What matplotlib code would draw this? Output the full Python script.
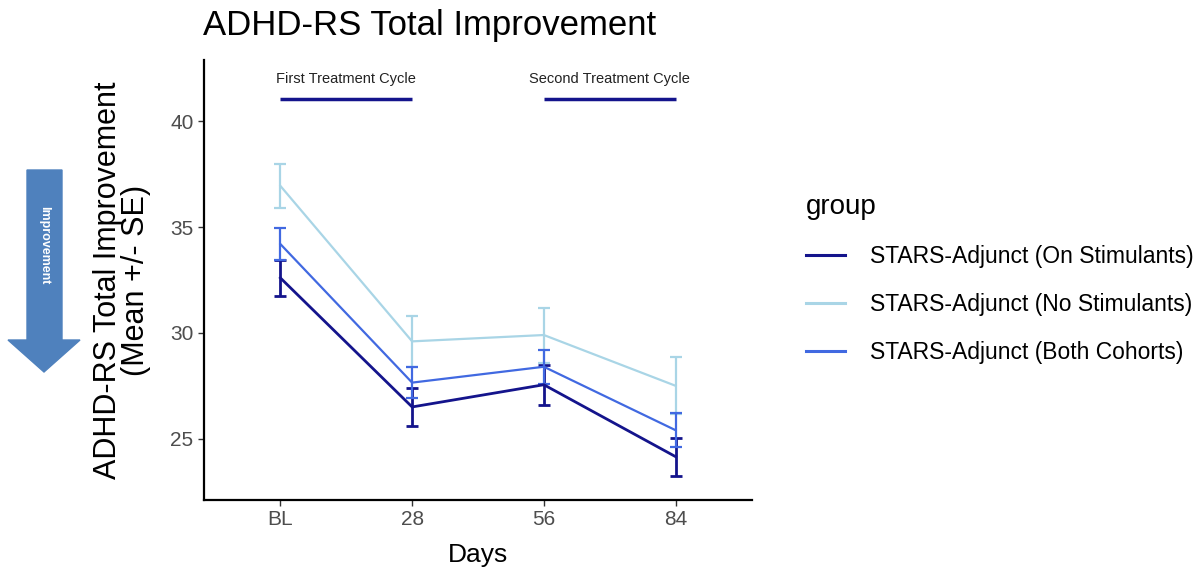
import numpy as np
import matplotlib.pyplot as plt
from matplotlib.patches import Polygon
from matplotlib.lines import Line2D

plt.rcParams['font.family'] = ['Liberation Sans', 'DejaVu Sans']

days = ['BL', '28', '56', '84']
groups = ['STARS-Adjunct (On Stimulants)',
          'STARS-Adjunct (No Stimulants)',
          'STARS-Adjunct (Both Cohorts)']
on_mean = [32.6, 26.5, 27.55, 24.15]
on_se = [0.85, 0.9, 0.95, 0.9]
no_mean = [36.95, 29.6, 29.9, 27.5]
no_se = [1.05, 1.2, 1.3, 1.35]
both_mean = [34.2, 27.65, 28.4, 25.4]
both_se = [0.75, 0.73, 0.8, 0.8]
colors = ['#14148c', '#a9d5e6', '#4169e1']
widths = [2.0, 1.6, 1.6]

cycles = ['First Treatment Cycle', 'Second Treatment Cycle']
cycle_start = [0, 2]
cycle_end = [1, 3]

fig = plt.figure(figsize=(12.04, 5.77), dpi=100)
ax = fig.add_axes([0.1694, 0.1334, 0.4552, 0.7626])

x = np.arange(len(days))
for mean, se, c, lw in zip([on_mean, no_mean, both_mean],
                           [on_se, no_se, both_se], colors, widths):
    ax.errorbar(x, mean, yerr=se, color=c, lw=lw, elinewidth=lw,
                capsize=4, capthick=lw)

for name, s, e in zip(cycles, cycle_start, cycle_end):
    ax.plot([s, e], [41.05, 41.05], color='#14148c', lw=2.5, solid_capstyle='butt')
    ax.text((s + e) / 2, 42.0, name, ha='center', va='center', fontsize=10.5,
            color='#222222')

ax.set_xlim(-0.58, 3.58)
ax.set_ylim(22.1, 42.9)
ax.set_xticks(x)
ax.set_xticklabels(days)
ax.set_yticks([25, 30, 35, 40])
ax.tick_params(colors='#333333', labelcolor='#4d4d4d', labelsize=15, length=4, width=1)
for s in ['top', 'right']:
    ax.spines[s].set_visible(False)
for s in ['left', 'bottom']:
    ax.spines[s].set_linewidth(1.6)

ax.set_xlabel('Days', fontsize=19, labelpad=10)
ax.set_ylabel('ADHD-RS Total Improvement\n(Mean +/- SE)', fontsize=22,
              labelpad=14, linespacing=0.88)
fig.text(0.1686, 0.955, 'ADHD-RS Total Improvement', fontsize=25, ha='left', va='center')

handles = [Line2D([], [], color=c, lw=2.2) for c in colors]
fig.legend(handles, groups, loc='upper left', bbox_to_anchor=(0.652, 0.7),
           frameon=False, title='group', fontsize=16.5, title_fontsize=20,
           handlelength=1.7, handletextpad=1.1, labelspacing=1.1,
           alignment='left')

# arrow on the left
px = [(27, 170), (62, 170), (62, 340), (80, 340), (44, 372), (8, 340), (27, 340)]
verts = [(a / 100, (577 - b) / 100) for a, b in px]
fig.patches.append(Polygon(verts, closed=True, color='#4f81bd',
                           transform=fig.dpi_scale_trans))
fig.text(44 / 1204, 1 - 245 / 577, 'Improvement', rotation=-90, color='white',
         fontsize=9, fontweight='bold', ha='center', va='center')

plt.savefig('out.png', dpi=100)
